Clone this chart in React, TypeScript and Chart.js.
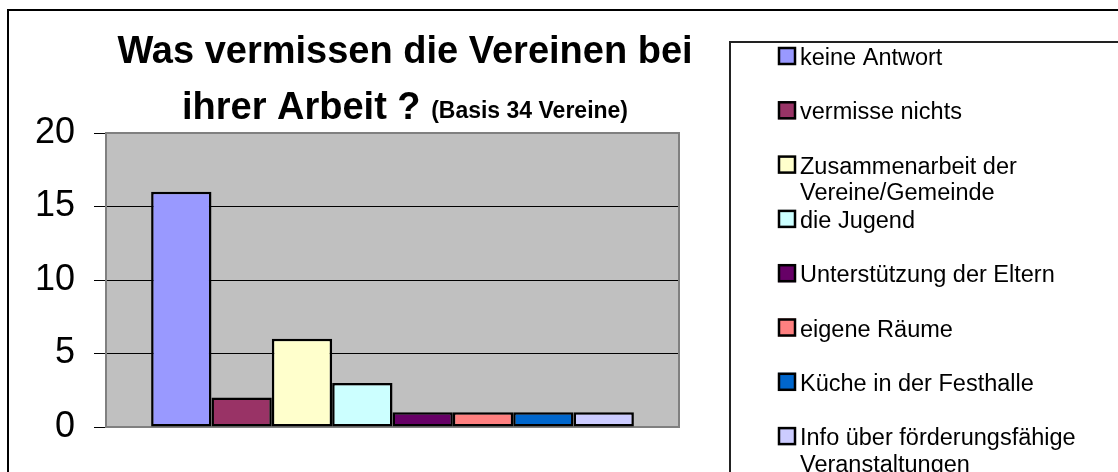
import { useEffect, useRef } from 'react';
import { Chart, registerables } from 'chart.js';

Chart.register(...registerables);

// ---- data ----
const categoryLabels = [''];
const seriesNames = [
  'keine Antwort',
  'vermisse nichts',
  'Zusammenarbeit der Vereine/Gemeinde',
  'die Jugend',
  'Unterstützung der Eltern',
  'eigene Räume',
  'Küche in der Festhalle',
  'Info über förderungsfähige Veranstaltungen',
];
const seriesValues = [16, 2, 6, 3, 1, 1, 1, 1];
const seriesColors = ['#9999FF', '#993366', '#FFFFCC', '#CCFFFF', '#660066', '#FF8080', '#0066CC', '#CCCCFF'];
const yTickValues = [0, 5, 10, 15, 20];
const titleLines = ['Was vermissen die Vereinen bei', 'ihrer Arbeit ?'];
const titleNote = '(Basis 34 Vereine)';

const FONT = '"Liberation Sans", Arial, sans-serif';

function wrapText(ctx: CanvasRenderingContext2D, text: string, maxWidth: number): string[] {
  const words = text.split(' ');
  const lines: string[] = [];
  let cur = '';
  for (const w of words) {
    const test = cur ? cur + ' ' + w : w;
    if (cur && ctx.measureText(test).width > maxWidth) {
      lines.push(cur);
      cur = w;
    } else {
      cur = test;
    }
  }
  if (cur) lines.push(cur);
  return lines;
}

const framePlugin = {
  id: 'frame',
  beforeDraw(chart: any) {
    const { ctx, chartArea: a } = chart;
    ctx.save();
    ctx.fillStyle = '#FFFFFF';
    ctx.fillRect(0, 0, chart.width, chart.height);
    ctx.fillStyle = '#C0C0C0';
    ctx.fillRect(a.left, a.top, a.right - a.left, a.bottom - a.top);
    ctx.restore();
  },
  beforeDatasetsDraw(chart: any) {
    const { ctx, chartArea: a } = chart;
    ctx.save();
    ctx.strokeStyle = '#808080';
    ctx.lineWidth = 2;
    ctx.strokeRect(a.left, a.top, a.right - a.left, a.bottom - a.top);
    ctx.restore();
  },
  afterDraw(chart: any) {
    const { ctx } = chart;
    ctx.save();
    // outer frame
    ctx.strokeStyle = '#000000';
    ctx.lineWidth = 2;
    ctx.strokeRect(8, 10, 1300, 700);
    // legend frame
    ctx.strokeStyle = '#222222';
    ctx.strokeRect(730, 42, 700, 700);

    // title
    ctx.fillStyle = '#000000';
    ctx.textBaseline = 'alphabetic';
    const cx = 405;
    ctx.font = `bold 38px ${FONT}`;
    ctx.textAlign = 'center';
    ctx.fillText(titleLines[0], cx, 63);
    ctx.textAlign = 'left';
    const bigW = ctx.measureText(titleLines[1] + ' ').width;
    ctx.font = `bold 23px ${FONT}`;
    const smallW = ctx.measureText(titleNote).width;
    const start = cx - (bigW + smallW) / 2;
    ctx.font = `bold 38px ${FONT}`;
    ctx.fillText(titleLines[1], start, 119);
    ctx.font = `bold 23px ${FONT}`;
    ctx.fillText(titleNote, start + bigW, 118);

    // legend
    ctx.font = `23.5px ${FONT}`;
    const step = 54.3;
    seriesNames.forEach((name, i) => {
      const base = 65 + i * step;
      ctx.fillStyle = seriesColors[i];
      ctx.fillRect(778, base - 18, 18, 18);
      ctx.strokeStyle = '#000000';
      ctx.lineWidth = 2.5;
      ctx.strokeRect(779, base - 17, 16, 16);
      ctx.fillStyle = '#000000';
      const lines = wrapText(ctx, name, 305);
      lines.forEach((ln, j) => ctx.fillText(ln, 800, base + j * 26.5));
    });
    ctx.restore();
  },
};

export default function App() {
  const ref = useRef<HTMLCanvasElement>(null);
  useEffect(() => {
    if (!ref.current) return;
    const chart = new Chart(ref.current, {
      type: 'bar',
      data: {
        labels: categoryLabels,
        datasets: seriesNames.map((name, i) => ({
          label: name,
          data: [seriesValues[i]],
          backgroundColor: seriesColors[i],
          borderColor: '#000000',
          borderWidth: 2.5,
          borderSkipped: false,
          categoryPercentage: 0.8425,
          barPercentage: 1,
        })),
      },
      options: {
        animation: false,
        responsive: false,
        layout: { padding: { left: 0, top: 133, right: 439, bottom: 45 } },
        plugins: {
          legend: { display: false },
          title: { display: false },
          tooltip: { enabled: false },
        },
        scales: {
          x: { display: false },
          y: {
            min: 0,
            max: 20,
            afterFit: (s: any) => { s.width = 106; },
            afterBuildTicks: (s: any) => { s.ticks = yTickValues.map((v) => ({ value: v })); },
            ticks: {
              font: { family: FONT, size: 36 },
              color: '#000000',
              padding: 19,
            },
            grid: {
              color: (c: any) => (c.tick && (c.tick.value === 0 || c.tick.value === 20) ? '#808080' : '#000000'),
              tickColor: '#000000',
              tickLength: 12,
              lineWidth: 1,
            },
            border: { color: '#606060', width: 2 },
          },
        },
      },
      plugins: [framePlugin],
    });
    return () => chart.destroy();
  }, []);
  return (
    <div style={{ position: 'fixed', left: 0, top: 0, width: 1118, height: 472, background: '#fff' }}>
      <canvas ref={ref} width={1118} height={472} style={{ width: 1118, height: 472, display: 'block' }} />
    </div>
  );
}
